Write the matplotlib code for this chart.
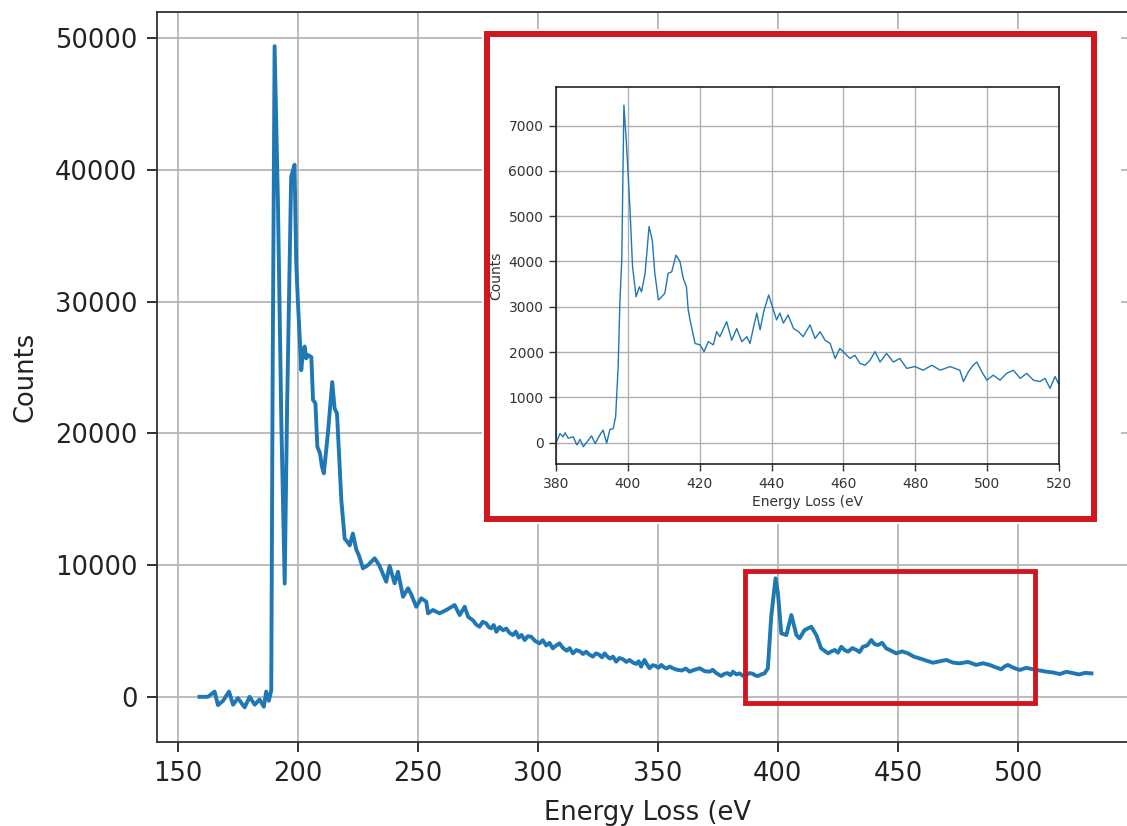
import matplotlib
matplotlib.use("Agg")
import matplotlib.pyplot as plt
from matplotlib.patches import Rectangle

# main spectrum
energy = [159.0, 162.5, 165.3, 166.7, 168.8, 171.3, 173.0, 175.0, 177.8, 179.9,
          182.0, 184.0, 185.8, 186.8, 187.9, 188.9, 189.5, 190.3, 191.7, 193.1,
          194.5, 195.5, 197.2, 198.6, 199.3, 200.0, 200.7, 201.4, 202.2, 202.8,
          203.5, 204.2, 205.6, 206.3, 207.3, 208.1, 209.2, 210.0, 210.8, 212.5,
          214.3, 215.3, 216.3, 218.1, 219.5, 220.5, 221.6, 222.9, 224.3, 225.5,
          227.1, 229.2, 232.0, 234.0, 236.8, 238.2, 240.3, 241.7, 243.8, 245.9,
          247.3, 249.3, 251.4, 253.5, 254.2, 256.3, 259.0, 261.8, 265.3, 267.4,
          269.5, 270.9, 273.0, 274.2, 275.7, 277.0, 278.5, 279.5, 280.5, 281.6,
          282.7, 284.0, 285.5, 286.8, 288.2, 289.6, 290.8, 292.0, 293.2, 294.5,
          295.8, 297.2, 298.8, 300.7, 302.0, 303.5, 304.8, 306.2, 307.6, 309.0,
          310.5, 312.0, 313.2, 314.6, 316.0, 317.5, 318.8, 320.1, 321.5, 322.9,
          324.2, 325.5, 326.7, 327.8, 329.0, 330.0, 331.3, 332.6, 334.0, 335.5,
          336.8, 338.2, 339.6, 341.0, 342.0, 343.0, 344.4, 345.5, 346.5, 347.8,
          349.0, 350.2, 351.4, 352.5, 353.5, 355.0, 356.2, 358.0, 360.0, 361.6,
          363.2, 365.2, 367.4, 369.5, 371.6, 372.8, 374.0, 375.2, 376.4, 377.7,
          379.0, 380.2, 381.3, 382.7, 384.0, 385.4, 386.8, 388.2, 389.5, 390.6,
          391.7, 393.0, 394.4, 395.8, 397.2, 399.0, 400.0, 401.4, 403.5, 405.6,
          407.7, 409.0, 411.1, 413.9, 416.0, 418.0, 420.9, 422.3, 423.7, 425.0,
          426.4, 427.8, 429.2, 431.0, 432.7, 434.0, 435.4, 437.2, 438.9, 440.3,
          441.7, 443.4, 445.1, 447.2, 449.3, 451.7, 454.2, 456.6, 459.0, 461.8,
          464.6, 467.4, 470.1, 472.9, 475.7, 479.2, 482.6, 485.4, 488.2, 490.6,
          493.0, 494.4, 495.8, 498.2, 500.7, 503.5, 506.3, 509.0, 511.8, 514.6,
          517.4, 520.2, 522.9, 525.5, 528.0, 530.6]
counts = [0, 0, 400, -630, -300, 400, -600, -100, -800, 0,
          -600, -200, -750, 400, -300, 500, 25000, 49400, 37400, 20900,
          8600, 22000, 39500, 40400, 33000, 30000, 27500, 24800, 26300, 26600,
          25700, 25950, 25800, 22540, 22300, 19000, 18500, 17500, 16970, 20000,
          23900, 21900, 21500, 14940, 12000, 11800, 11500, 12400, 11200, 10700,
          9760, 10000, 10520, 9950, 8740, 9950, 8620, 9500, 7600, 8240,
          7740, 6840, 7480, 7220, 6340, 6590, 6340, 6590, 6970, 6210,
          6840, 6080, 5800, 5500, 5320, 5700, 5570, 5300, 5200, 5450,
          4940, 5300, 5050, 5190, 4850, 4690, 4950, 4500, 4700, 4310,
          4600, 4560, 4250, 4060, 4300, 3900, 4100, 3680, 3900, 4060,
          3700, 3500, 3700, 3300, 3550, 3450, 3250, 3430, 3200, 3050,
          3300, 3200, 3000, 3300, 3050, 2900, 3050, 2670, 2950, 2850,
          2650, 2800, 2600, 2500, 2700, 2290, 2800, 2450, 2170, 2400,
          2350, 2200, 2420, 2250, 2150, 2300, 2170, 2050, 2000, 2150,
          1910, 2050, 2170, 1950, 1910, 2050, 1850, 1700, 1580, 1750,
          1800, 1650, 1910, 1700, 1780, 1600, 1660, 1800, 1750, 1620,
          1580, 1700, 1780, 2160, 6080, 9000, 7860, 4820, 4690, 6210,
          4690, 4440, 5070, 5320, 4690, 3680, 3300, 3450, 3560, 3350,
          3800, 3550, 3430, 3700, 3560, 3400, 3800, 3900, 4310, 4000,
          3930, 4100, 3680, 3500, 3300, 3450, 3300, 3050, 2920, 2750,
          2590, 2700, 2800, 2600, 2540, 2650, 2420, 2550, 2420, 2250,
          2090, 2300, 2420, 2200, 2040, 2200, 2090, 2000, 1910, 1850,
          1730, 1900, 1800, 1700, 1820, 1780]

# zoomed N-edge (inset)
inset_energy = [380.0, 381.1, 382.0, 382.5, 383.4, 384.8, 385.8, 386.7, 387.6, 389.0,
                389.9, 390.9, 392.2, 393.1, 394.1, 395.0, 395.9, 396.6, 397.3, 397.8,
                398.3, 398.9, 399.6, 400.6, 401.3, 402.3, 403.2, 403.8, 404.8, 405.9,
                406.8, 407.5, 408.5, 409.4, 410.3, 411.2, 412.2, 413.4, 414.5, 415.4,
                416.3, 416.8, 417.3, 418.7, 420.1, 421.2, 422.4, 423.8, 424.7, 425.6,
                427.5, 428.9, 430.3, 431.7, 433.1, 434.0, 435.0, 435.9, 436.8, 437.8,
                439.2, 440.5, 441.4, 442.3, 443.3, 444.6, 446.1, 447.5, 448.8, 450.7,
                452.1, 453.5, 454.9, 456.3, 457.7, 459.0, 460.4, 461.8, 463.2, 464.6,
                466.0, 467.4, 468.8, 470.2, 472.0, 473.9, 475.7, 477.6, 479.9, 482.2,
                484.6, 486.9, 489.7, 492.4, 493.4, 494.8, 496.1, 497.1, 498.5, 499.9,
                501.7, 503.6, 505.4, 507.3, 509.2, 511.0, 512.9, 514.7, 516.1, 517.5,
                518.9, 519.8]
inset_counts = [-10, 200, 130, 220, 100, 130, -50, 75, -90, 55,
                150, -20, 170, 280, -10, 290, 310, 575, 1680, 3150,
                4030, 7450, 6610, 5140, 3890, 3220, 3440, 3330, 3740, 4770,
                4470, 3740, 3150, 3220, 3300, 3740, 3770, 4140, 4000, 3630,
                3440, 2930, 2710, 2190, 2160, 2010, 2230, 2160, 2450, 2340,
                2670, 2260, 2520, 2230, 2340, 2190, 2560, 2860, 2490, 2890,
                3260, 2930, 2710, 2860, 2640, 2820, 2520, 2450, 2340, 2600,
                2300, 2450, 2260, 2190, 1860, 2080, 1970, 1860, 1930, 1750,
                1710, 1820, 2010, 1780, 1970, 1780, 1860, 1640, 1680, 1600,
                1710, 1600, 1680, 1600, 1350, 1570, 1710, 1780, 1570, 1380,
                1490, 1380, 1530, 1600, 1420, 1530, 1380, 1350, 1420, 1200,
                1460, 1310]

main_xticks = [150, 200, 250, 300, 350, 400, 450, 500]
main_yticks = [0, 10000, 20000, 30000, 40000, 50000]
inset_xticks = [380, 400, 420, 440, 460, 480, 500, 520]
inset_yticks = [0, 1000, 2000, 3000, 4000, 5000, 6000, 7000]

W, H = 1127, 826
red = "#d0161e"
blue = "#1f77b4"


def px_box(x0, y0, x1, y1):
    # pixel box (top-left origin) -> figure fraction [l, b, w, h]
    return [x0 / W, 1 - y1 / H, (x1 - x0) / W, (y1 - y0) / H]


fig = plt.figure(figsize=(W / 100, H / 100), dpi=100)

# main axes (right spine runs off the canvas like in the original crop)
ax = fig.add_axes(px_box(157, 12, 1137, 742))
ax.plot(energy, counts, color=blue, lw=2.8)
ax.set_xlim(141.3, 549.6)
ax.set_ylim(-3430, 52000)
ax.set_xticks(main_xticks)
ax.set_yticks(main_yticks)
ax.grid(True, color="#b0b0b0", lw=1.2)
ax.tick_params(labelsize=18.5, length=7, width=1.3, pad=7, colors="#222222")
ax.set_xlabel("Energy Loss (eV", fontsize=18.5, color="#222222", labelpad=9)
ax.set_ylabel("Counts", fontsize=18.5, color="#222222", labelpad=12)
for s in ax.spines.values():
    s.set_linewidth(1.3)
    s.set_color("#333333")
ax.add_patch(Rectangle((386.1, -470), 507.0 - 386.1, 9552 + 470,
                       fill=False, ec=red, lw=3.5, zorder=3))

# white backing and red frame for the inset
x0, y0, x1, y1 = 482, 29, 1121, 524
fig.add_artist(Rectangle((x0 / W, 1 - y1 / H), (x1 - x0) / W, (y1 - y0) / H,
                         transform=fig.transFigure, fc="white", ec="none", zorder=1))
x0, y0, x1, y1 = 487, 34, 1094, 519
fig.add_artist(Rectangle((x0 / W, 1 - y1 / H), (x1 - x0) / W, (y1 - y0) / H,
                         transform=fig.transFigure, fill=False, ec=red, lw=4.3, zorder=1.5))

# inset
ins = fig.add_axes(px_box(556, 87, 1059, 464), zorder=2)
ins.plot(inset_energy, inset_counts, color=blue, lw=1.0)
ins.set_xlim(380, 520)
ins.set_ylim(-470, 7850)
ins.set_xticks(inset_xticks)
ins.set_yticks(inset_yticks)
ins.grid(True, color="#b0b0b0", lw=1.0)
ins.tick_params(labelsize=10, length=5, width=1.0, pad=4, colors="#333333")
ins.set_xlabel("Energy Loss (eV", fontsize=10, color="#333333", labelpad=3)
ins.set_ylabel("Counts", fontsize=10, color="#333333", labelpad=4)
for s in ins.spines.values():
    s.set_linewidth(1.2)
    s.set_color("#222222")

fig.savefig("out.png", dpi=100)
